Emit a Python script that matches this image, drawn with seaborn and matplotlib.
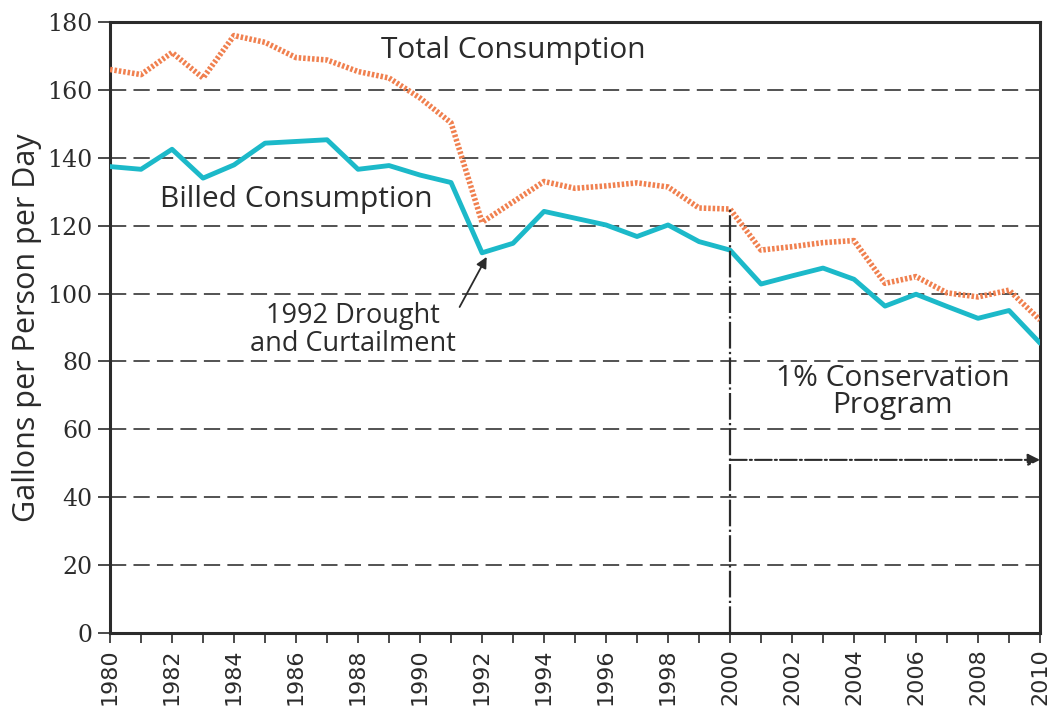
import numpy as np
import pandas as pd
import matplotlib
matplotlib.use("Agg")
import matplotlib.pyplot as plt
import matplotlib.ticker as mticker
import seaborn as sns

# données
years = list(range(1980, 2011))
total = [166, 164.5, 171, 163.5, 176, 174, 169.5, 168.8, 165.4, 163.5,
         157.6, 150.3, 121, 127, 133, 131, 131.7, 132.6, 131.4, 125.2,
         124.9, 112.8, 113.8, 115, 115.6, 103, 105, 100.2, 99, 101, 92.2]
billed = [137.4, 136.6, 142.5, 134, 137.9, 144.3, 144.8, 145.3, 136.6, 137.7,
          134.9, 132.7, 112, 114.8, 124.2, 122.2, 120.2, 116.8, 120.2, 115.3,
          112.8, 102.8, 105.2, 107.5, 104.2, 96.3, 99.8, 96.2, 92.7, 95, 85.4]
y_ticks = list(range(0, 181, 20))

df = pd.DataFrame({"Year": years, "Total": total, "Billed": billed})

sns.set_style("ticks")
plt.rcParams["font.family"] = ["Open Sans", "DejaVu Sans"]

fig = plt.figure(figsize=(10.5, 7.11), dpi=100)
ax = fig.add_axes([0.1048, 0.1097, 0.8857, 0.8594])

orange = "#F0804F"
cyan = "#1CB9C9"
dark = "#2b2b2b"

for y in y_ticks[1:-1]:
    ax.axhline(y, color="#444444", lw=1.3, ls=(0, (9, 4)), zorder=1)

sns.lineplot(data=df, x="Year", y="Total", ax=ax, color=orange, lw=4,
             linestyle=(0, (0.45, 0.35)), zorder=3)
sns.lineplot(data=df, x="Year", y="Billed", ax=ax, color=cyan, lw=3.5, zorder=3)

# programme de conservation
ax.plot([2000, 2000], [0, 124.9], color=dark, lw=1.6, ls=(0, (12, 1.5, 1, 1.5)), zorder=4)
ax.annotate("", xy=(2010, 51), xytext=(2000, 51),
            arrowprops=dict(arrowstyle="-|>", color=dark, lw=1.5,
                            linestyle=(0, (8, 1.5, 1, 1.5)), mutation_scale=18,
                            shrinkA=0, shrinkB=0), zorder=4)
ax.text(2005.25, 71, "1% Conservation\nProgram", ha="center", va="center",
        fontsize=21.5, color=dark, linespacing=0.95)

ax.annotate("1992 Drought\nand Curtailment", xy=(1992.15, 110.8), xytext=(1987.85, 89.3),
            ha="center", va="center", fontsize=19.5, color=dark, linespacing=1.0,
            arrowprops=dict(arrowstyle="-|>", color=dark, lw=1.3, mutation_scale=16,
                            shrinkA=0, shrinkB=0, relpos=(1.0, 0.8)))

ax.text(1993.0, 171.5, "Total Consumption", ha="center", va="center", fontsize=21.5, color=dark)
ax.text(1986.0, 127.6, "Billed Consumption", ha="center", va="center", fontsize=21.5, color=dark)

ax.set_xlim(1980, 2010)
ax.set_ylim(0, 180)
ax.set_yticks(y_ticks)
ax.xaxis.set_major_locator(mticker.MultipleLocator(2))
ax.xaxis.set_minor_locator(mticker.MultipleLocator(1))
ax.tick_params(axis="x", which="both", direction="out", length=7, width=1.2, color=dark)
ax.tick_params(axis="x", labelsize=16, labelrotation=90, labelcolor=dark,
               labelfontfamily="DejaVu Sans", pad=4)
ax.tick_params(axis="y", direction="out", length=9, width=1.2, color=dark,
               labelsize=17, labelcolor=dark, labelfontfamily="DejaVu Serif")

ax.set_xlabel("")
ax.set_ylabel("Gallons per Person per Day", fontsize=22, color=dark, labelpad=4)
for sp in ax.spines.values():
    sp.set_color(dark)
    sp.set_linewidth(2.2)

plt.savefig("out.png", dpi=100)
